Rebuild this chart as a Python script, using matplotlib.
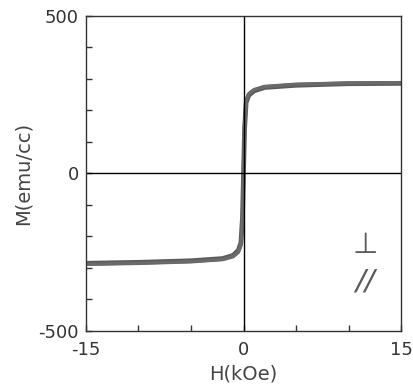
import matplotlib.pyplot as plt
import numpy as np

plt.rcParams['font.family'] = ['DejaVu Sans']
plt.rcParams['axes.unicode_minus'] = False

# 磁化曲线数据
H_perp = [-15, -10, -5, -2, -1, -0.5, -0.25, -0.1, 0, 0.1, 0.25, 0.5, 1, 2, 5, 10, 15]
M_perp = [-288, -285, -280, -273, -264, -250, -228, -150, 0, 150, 232, 253, 266, 276, 283, 287, 288]
H_para = [-15, -10, -5, -2, -1, -0.5, -0.25, -0.1, 0, 0.1, 0.25, 0.5, 1, 2, 5, 10, 15]
M_para = [-285, -282, -277, -270, -260, -244, -220, -140, 0, 140, 225, 248, 262, 273, 280, 285, 286]

x_ticks = [-15, 0, 15]
y_ticks = [-500, 0, 500]

fig = plt.figure(figsize=(4.14, 3.90), dpi=100)
ax = fig.add_axes([0.2077, 0.1513, 0.761, 0.8077])

ax.plot(H_para, M_para, color='#5a5a5a', lw=3.4)
ax.plot(H_perp, M_perp, color='#6a6a6a', lw=2.6)

# 零线
ax.axhline(0, color='black', lw=1.0)
ax.axvline(0, color='black', lw=1.0)

ax.set_xlim(-15, 15)
ax.set_ylim(-500, 500)
ax.set_xticks(x_ticks)
ax.set_yticks(y_ticks)
ax.set_xticks(np.arange(-15, 16, 5), minor=True)
ax.set_yticks(np.arange(-500, 501, 100), minor=True)
ax.tick_params(which='both', direction='in', length=4, width=1, colors='#333333',
               labelsize=13, top=False, right=False)
ax.tick_params(axis='x', pad=7)
ax.tick_params(axis='y', pad=5)
for lab in ax.get_xticklabels() + ax.get_yticklabels():
    lab.set_color('#333333')
for s in ax.spines.values():
    s.set_color('#333333')
    s.set_linewidth(1.0)

ax.set_xlabel('H(kOe)', fontsize=14, color='#444444', labelpad=4)
ax.set_ylabel('M(emu/cc)', fontsize=14, color='#444444', labelpad=4)

ax.text(0.886, 0.273, '⊥', transform=ax.transAxes, fontsize=21, color='#5a5a5a',
        ha='center', va='center')
ax.text(0.886, 0.156, '//', transform=ax.transAxes, fontsize=21, color='#5a5a5a',
        ha='center', va='center', style='italic')

plt.savefig('out.png', dpi=100)
